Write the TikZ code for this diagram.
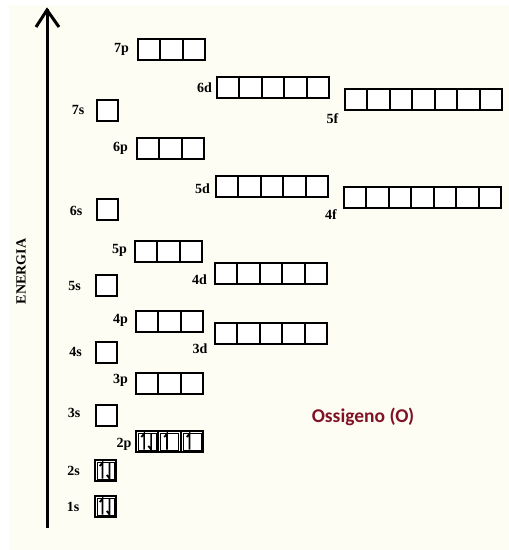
\documentclass[tikz,border=0pt]{standalone}
\usepackage{fontspec}
\setmainfont{Liberation Serif}
\newfontfamily\calibfont{Carlito}
\definecolor{creambg}{RGB}{253,253,243}
\definecolor{oxred}{RGB}{128,18,38}
\newcommand\orbrow[4]{%
  \foreach \i in {1,...,#4} {
    \node[cell] (#1-\i) at ({#2+0.9+(\i-1)*22.45},{#3+0.9}) {};
  }%
}
\newcommand\sorb[3]{\node[scell] (#1) at ({#2+0.9},{#3+0.9}) {};}
\newcommand\elup[1]{\draw[el] ([shift={(-3,8)}]#1.center) -- ++(0,-16) -- ++(-2.8,3.6);}
\newcommand\eldn[1]{\draw[el] ([shift={(4,-8)}]#1.center) -- ++(0,16) -- ++(-2.8,-3.6);}
\newcommand\elone[1]{\draw[el] ([shift={(-2.5,8)}]#1.center) -- ++(0,-16) -- ++(-2.8,3.6);}
\newcommand\inframe[1]{\draw[line width=0.8pt] ([shift={(2.2,2.2)}]#1.north west) rectangle ([shift={(-2.2,-2.2)}]#1.south east);}
\begin{document}
\begin{tikzpicture}[x=1pt,y=-1pt,
  cell/.style={draw=black, line width=2pt, fill=white, minimum width=22.45pt,
    minimum height=21.2pt, inner sep=0pt, outer sep=0pt, anchor=north west},
  scell/.style={cell, minimum width=21.2pt},
  lbl/.style={font=\bfseries\fontsize{14}{15}\selectfont, anchor=base, inner sep=0pt},
  el/.style={line width=1.7pt, line cap=butt, line join=miter}]
\useasboundingbox (0,0) rectangle (509,550);
\fill[white] (0,0) rectangle (509,550);
\fill[creambg] (9,5) rectangle (509,550);

% energy axis
\coordinate (abot) at (47,528);
\coordinate (atop) at (47,10);
\coordinate (al) at (36,27);
\coordinate (ar) at (59,27);
\draw[line width=3pt] (abot) -- ([yshift=1pt]atop);
\draw[line width=3pt, line join=miter, miter limit=10] (al) -- (atop) -- (ar);
\node[rotate=90, font=\bfseries\fontsize{14}{15}\selectfont, inner sep=0pt] (energia) at (21,271.5) {ENERGIA};

% orbitals
\orbrow{o7p}{137}{38}{3}
\orbrow{o6d}{216}{76}{5}
\orbrow{o5f}{344}{88}{7}
\sorb{o7s}{96}{99}
\orbrow{o6p}{136}{137}{3}
\orbrow{o5d}{215}{175}{5}
\orbrow{o4f}{343}{186}{7}
\sorb{o6s}{96}{198}
\orbrow{o5p}{134}{240}{3}
\orbrow{o4d}{214}{262}{5}
\sorb{o5s}{95}{274}
\orbrow{o4p}{135}{310}{3}
\orbrow{o3d}{214}{322}{5}
\sorb{o4s}{95}{341}
\orbrow{o3p}{135}{372}{3}
\sorb{o3s}{95}{404}
\orbrow{o2p}{135}{430}{3}
\sorb{o2s}{94}{459}
\sorb{o1s}{94}{495}

% labels
\node[lbl] (l7p) at (121.5,52) {7p};
\node[lbl] (l6d) at (204.5,92) {6d};
\node[lbl] (l5f) at (332.5,123) {5f};
\node[lbl] (l7s) at (78,114) {7s};
\node[lbl] (l6p) at (120.5,151) {6p};
\node[lbl] (l5d) at (202.5,193) {5d};
\node[lbl] (l4f) at (331,219) {4f};
\node[lbl] (l6s) at (76,215) {6s};
\node[lbl] (l5p) at (119.5,253) {5p};
\node[lbl] (l4d) at (199.5,284) {4d};
\node[lbl] (l5s) at (74.5,290) {5s};
\node[lbl] (l4p) at (120.5,323) {4p};
\node[lbl] (l3d) at (200,353) {3d};
\node[lbl] (l4s) at (75.5,356) {4s};
\node[lbl] (l3p) at (120.5,383) {3p};
\node[lbl] (l3s) at (74,417) {3s};
\node[lbl] (l2p) at (124,447) {2p};
\node[lbl] (l2s) at (73.5,475) {2s};
\node[lbl] (l1s) at (73,511) {1s};

% electrons
\inframe{o1s}
\inframe{o2s}
\inframe{o2p-1}
\inframe{o2p-2}
\inframe{o2p-3}
\elup{o1s}
\eldn{o1s}
\elup{o2s}
\eldn{o2s}
\elup{o2p-1}
\eldn{o2p-1}
\elone{o2p-2}
\elone{o2p-3}

\node[font=\calibfont\bfseries\fontsize{19.5}{22}\selectfont, text=oxred, anchor=base, inner sep=0pt] (title) at (363,422) {Ossigeno (O)};
\end{tikzpicture}
\end{document}
